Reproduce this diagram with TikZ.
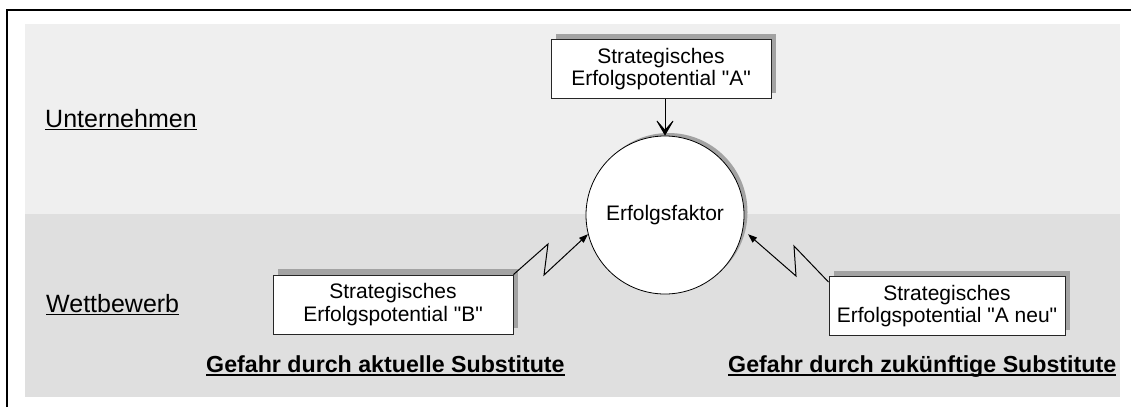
\documentclass[tikz,border=0pt]{standalone}
\usepackage{fontspec}
\setmainfont{Liberation Sans}[Ligatures=TeXOff]
\usetikzlibrary{arrows.meta,shadows}

\definecolor{bgupper}{HTML}{EFEFEF}
\definecolor{bglower}{HTML}{DFDFDF}
\definecolor{shadowgray}{HTML}{A3A3A3}

\tikzset{
  potbox/.style={draw=black!85, line width=0.8pt, fill=white, align=center,
    inner sep=0pt, minimum height=59pt,
    font=\fontsize{21}{22.5}\selectfont,
    drop shadow={shadow xshift=5pt, shadow yshift=6pt, fill=shadowgray, opacity=1}},
  factor/.style={circle, draw=black, line width=0.8pt, fill=white, inner sep=0pt,
    minimum size=158pt, font=\fontsize{21}{22.5}\selectfont,
    drop shadow={shadow xshift=3.5pt, shadow yshift=3pt, fill=shadowgray, opacity=1}},
  region/.style={anchor=base west, inner sep=0pt, font=\fontsize{25}{27}\selectfont},
  danger/.style={anchor=base west, inner sep=0pt, font=\bfseries\fontsize{23.2}{25}\selectfont},
  zig/.style={line width=1pt, line join=miter, -{Triangle[length=9pt,width=6.5pt]}},
  press/.style={line width=0.8pt, -{Stealth[length=18pt,width=21pt,inset=12pt]}}
}

\begin{document}
\begin{tikzpicture}[x=1pt,y=-1pt]
  \useasboundingbox (0,0) rectangle (1131,407);
  \fill[white] (0,0) rectangle (1131,407);

  % the two bands: company (top) and competition (bottom)
  \fill[bgupper] (25,24) rectangle (1120,214);
  \fill[bglower] (25,214) rectangle (1120,397);

  % open frame along the top and left side
  \draw[line width=2pt] (6.5,407) -- (6.5,10) -- (1131,10);

  % band labels
  \node[region] (unt) at (45,127) {Unternehmen};
  \draw[line width=1.4pt] ([yshift=-2.2pt]unt.base west) -- ([yshift=-2.2pt]unt.base east);
  \node[region] (wett) at (46,312) {Wettbewerb};
  \draw[line width=1.4pt] ([yshift=-2.2pt]wett.base west) -- ([yshift=-2.2pt]wett.base east);

  % central success factor
  \node[factor] (circ) at (665,215) {Erfolgsfaktor};

  % strategic potentials
  \node[potbox, minimum width=220pt] (boxA) at (661,69)
    {Strategisches\\Erfolgspotential "A"};
  \node[potbox, minimum width=240pt] (boxB) at (393,304.5)
    {Strategisches\\Erfolgspotential "B"};
  \node[potbox, minimum width=236pt] (boxN) at (947,306)
    {Strategisches\\Erfolgspotential "A neu"};

  % own potential supports the factor
  \draw[press] (circ.north |- boxA.south) -- (circ.north);

  % substitutes attack the factor (lightning connectors)
  \coordinate (bPeak) at (548,244);
  \coordinate (bLow) at (544,275);
  \draw[zig] (boxB.north east) -- (bPeak) -- (bLow) -- (circ.194);

  \coordinate (nStart) at ([yshift=-6pt]boxN.north west);
  \coordinate (nPeak) at (794,246);
  \coordinate (nLow) at (796,276);
  \coordinate (nTip) at ([xshift=6pt]circ.346);
  \draw[zig] (nStart) -- (nPeak) -- (nLow) -- (nTip);

  % threat captions
  \node[danger] (gA) at (206,372) {Gefahr durch aktuelle Substitute};
  \draw[line width=2pt] ([yshift=-2.6pt]gA.base west) -- ([yshift=-2.6pt]gA.base east);
  \node[danger] (gN) at (728,372) {Gefahr durch zukünftige Substitute};
  \draw[line width=2pt] ([yshift=-2.6pt]gN.base west) -- ([yshift=-2.6pt]gN.base east);
\end{tikzpicture}
\end{document}
